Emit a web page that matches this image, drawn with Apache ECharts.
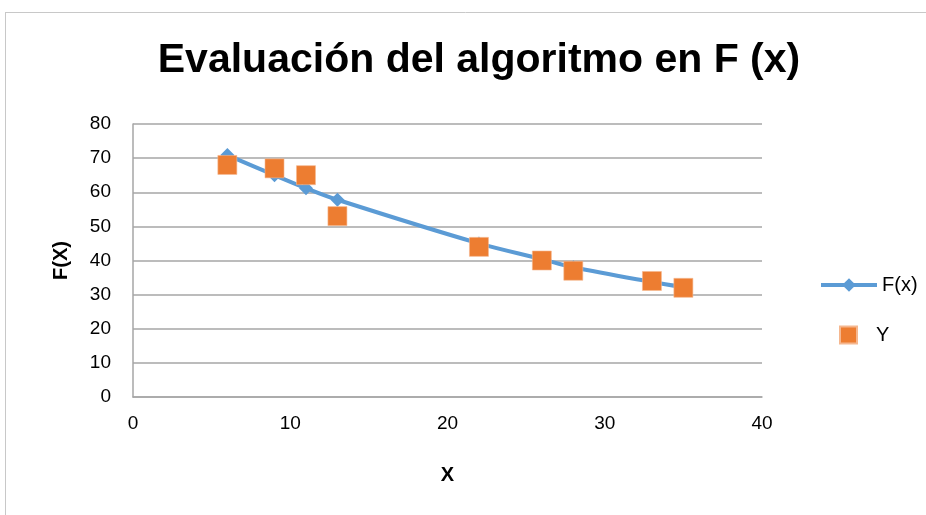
<!DOCTYPE html>
<html>
<head>
<meta charset="utf-8">
<script src="https://cdn.jsdelivr.net/npm/echarts@6/dist/echarts.min.js"></script>
<style>
  html, body { margin: 0; padding: 0; background: #fff; }
  #chart { width: 926px; height: 515px; }
</style>
</head>
<body>
<div id="chart"></div>
<script>
// Sample points of the evaluated function and observed values
var xValues = [6, 9, 11, 13, 22, 26, 28, 33, 35];
var fValues = [70.9, 65.0, 61.2, 57.8, 45.0, 40.4, 38.0, 33.7, 32.2];
var yValues = [68, 67, 65, 53, 44, 40, 37, 34, 32];
var yTicks = [0, 10, 20, 30, 40, 50, 60, 70, 80];
var xTicks = [0, 10, 20, 30, 40];

var fPairs = xValues.map(function (x, i) { return [x, fValues[i]]; });
var yPairs = xValues.map(function (x, i) { return [x, yValues[i]]; });

var baseFont = "'Liberation Sans', Arial, sans-serif";

var chart = echarts.init(document.getElementById('chart'), null, { renderer: 'canvas' });
chart.setOption({
  animation: false,
  backgroundColor: '#ffffff',
  title: {
    text: 'Evaluación del algoritmo en F (x)',
    left: 474,
    top: 35,
    textAlign: 'center',
    textStyle: { fontFamily: baseFont, fontWeight: 'bold', fontSize: 41, color: '#000000' }
  },
  graphic: [
    { type: 'line', shape: { x1: 5, y1: 12.5, x2: 926, y2: 12.5 }, style: { stroke: '#c8c8c8', lineWidth: 1 } },
    { type: 'line', shape: { x1: 5.5, y1: 12, x2: 5.5, y2: 515 }, style: { stroke: '#c8c8c8', lineWidth: 1 } }
  ],
  grid: { left: 133, right: 164, top: 124, bottom: 118, containLabel: false },
  legend: [
    {
      orient: 'vertical',
      left: 814,
      top: 270,
      itemWidth: 56,
      itemHeight: 17,
      lineStyle: { width: 4 },
      textStyle: { fontFamily: baseFont, fontSize: 20, color: '#000000' },
      data: ['F(x)']
    },
    {
      orient: 'vertical',
      left: 834,
      top: 320,
      itemWidth: 17,
      itemHeight: 17,
      itemGap: 0,
      textStyle: { fontFamily: baseFont, fontSize: 20, color: '#000000', padding: [0, 0, 0, 14] },
      data: [{ name: 'Y', icon: 'rect' }]
    }
  ],
  xAxis: {
    type: 'value',
    min: xTicks[0],
    max: xTicks[xTicks.length - 1],
    interval: 10,
    name: 'X',
    nameLocation: 'middle',
    nameGap: 68,
    nameTextStyle: { fontFamily: baseFont, fontWeight: 'bold', fontSize: 20, color: '#000' },
    axisLine: { show: true, lineStyle: { color: '#a6a6a6', width: 1.5 } },
    axisTick: { show: false },
    splitLine: { show: false },
    axisLabel: { fontFamily: baseFont, fontSize: 19, color: '#000', margin: 17 }
  },
  yAxis: {
    type: 'value',
    min: yTicks[0],
    max: yTicks[yTicks.length - 1],
    interval: 10,
    name: 'F(X)',
    nameLocation: 'middle',
    nameGap: 62,
    nameRotate: 90,
    nameTextStyle: { fontFamily: baseFont, fontWeight: 'bold', fontSize: 20, color: '#000' },
    axisLine: { show: true, lineStyle: { color: '#a6a6a6', width: 1.5 } },
    axisTick: { show: false },
    splitLine: { show: true, lineStyle: { color: '#a6a6a6', width: 1.5 } },
    axisLabel: { fontFamily: baseFont, fontSize: 19, color: '#000', margin: 22 }
  },
  series: [
    {
      name: 'F(x)',
      type: 'line',
      data: fPairs,
      smooth: 0.35,
      symbol: 'diamond',
      symbolSize: 14,
      showAllSymbol: true,
      z: 2,
      lineStyle: { color: '#5b9bd5', width: 4 },
      itemStyle: { color: '#5b9bd5' }
    },
    {
      name: 'Y',
      type: 'scatter',
      data: yPairs,
      symbol: 'rect',
      symbolSize: 19,
      z: 3,
      itemStyle: { color: '#ed7d31', opacity: 1, borderColor: '#f5b78f', borderWidth: 0.6 }
    }
  ]
});
</script>
</body>
</html>
